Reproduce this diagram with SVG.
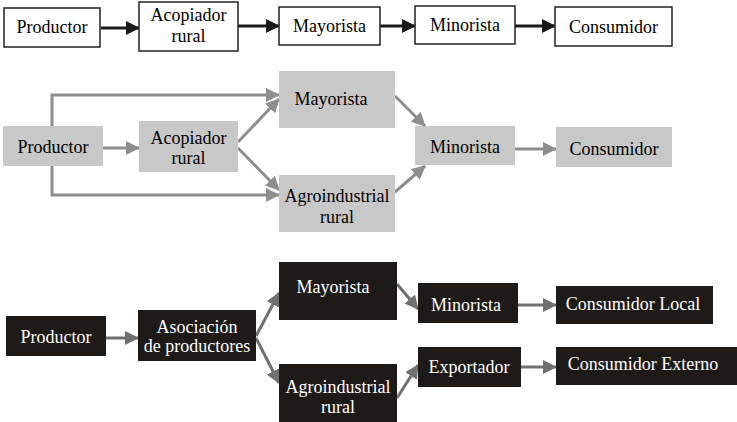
<svg xmlns="http://www.w3.org/2000/svg" width="737" height="422" viewBox="0 0 737 422">
<style>
.b1{fill:#fff;stroke:#222;stroke-width:1.5}
.b2{fill:#c8c8c8}
.b3{fill:#1e1a18}
.t3{fill:#fff}
.c1{stroke:#1a1a1a;stroke-width:3;fill:none;marker-end:url(#a1)}
.c2{stroke:#8e8e8e;stroke-width:3;fill:none;marker-end:url(#a2)}
.c3{stroke:#707070;stroke-width:3;fill:none;marker-end:url(#a3)}
</style>
<defs>
<marker id="a1" markerUnits="userSpaceOnUse" markerWidth="14" markerHeight="14" viewBox="0 0 14 14" refX="13" refY="7" orient="auto"><path d="M0,0 L14,7 L0,14 Z" fill="#1a1a1a"/></marker>
<marker id="a2" markerUnits="userSpaceOnUse" markerWidth="14" markerHeight="14" viewBox="0 0 14 14" refX="13" refY="7" orient="auto"><path d="M0,0 L14,7 L0,14 Z" fill="#8e8e8e"/></marker>
<marker id="a3" markerUnits="userSpaceOnUse" markerWidth="14" markerHeight="14" viewBox="0 0 14 14" refX="13" refY="7" orient="auto"><path d="M0,0 L14,7 L0,14 Z" fill="#707070"/></marker>
</defs>
<rect width="737" height="422" fill="#fff"/>
<g id="connectors">
<line class="c1" x1="101" y1="28" x2="139" y2="28"/>
<line class="c1" x1="238" y1="26" x2="279" y2="26"/>
<line class="c1" x1="380" y1="26" x2="415" y2="26"/>
<line class="c1" x1="515" y1="26" x2="555" y2="26"/>
<polyline class="c2" points="52,126 52,95 279,95"/>
<polyline class="c2" points="52,166 52,195 279,195"/>
<line class="c2" x1="103" y1="148" x2="139" y2="148"/>
<line class="c2" x1="238" y1="142" x2="279" y2="99"/>
<line class="c2" x1="238" y1="148" x2="279" y2="190"/>
<line class="c2" x1="395" y1="96" x2="425" y2="126"/>
<line class="c2" x1="395" y1="192" x2="425" y2="166"/>
<line class="c2" x1="515" y1="149" x2="556" y2="149"/>
<line class="c3" x1="106" y1="338" x2="138" y2="338"/>
<line class="c3" x1="256" y1="336" x2="279" y2="293"/>
<line class="c3" x1="256" y1="338" x2="279" y2="383"/>
<line class="c3" x1="397" y1="284" x2="418" y2="309"/>
<line class="c3" x1="397" y1="398" x2="418" y2="365"/>
<line class="c3" x1="518" y1="305" x2="556" y2="305"/>
<line class="c3" x1="521" y1="367" x2="556" y2="367"/>
</g>
<g font-family="Liberation Serif, Tinos, Times New Roman, Noto Serif, FreeSerif, DejaVu Serif, serif" font-size="18" text-anchor="middle">
<g id="r1-productor"><rect class="b1" x="4" y="8" width="96" height="39"/><text x="52" y="33">Productor</text></g>
<g id="r1-acopiador"><rect class="b1" x="139" y="2" width="99" height="49"/><text x="188.5" y="21">Acopiador</text><text x="188.5" y="42">rural</text></g>
<g id="r1-mayorista"><rect class="b1" x="279" y="7" width="101" height="38"/><text x="329.5" y="32">Mayorista</text></g>
<g id="r1-minorista"><rect class="b1" x="415" y="6" width="100" height="38"/><text x="465" y="31">Minorista</text></g>
<g id="r1-consumidor"><rect class="b1" x="555" y="7" width="117" height="39"/><text x="613.5" y="33">Consumidor</text></g>
<g id="r2-productor"><rect class="b2" x="3" y="126" width="100" height="40"/><text x="53" y="153">Productor</text></g>
<g id="r2-acopiador"><rect class="b2" x="139" y="121" width="99" height="51"/><text x="188.5" y="144">Acopiador</text><text x="188.5" y="164">rural</text></g>
<g id="r2-mayorista"><rect class="b2" x="279" y="71" width="116" height="57"/><text x="331" y="105">Mayorista</text></g>
<g id="r2-agroindustrial"><rect class="b2" x="279" y="175" width="116" height="57"/><text x="337" y="202">Agroindustrial</text><text x="337" y="223">rural</text></g>
<g id="r2-minorista"><rect class="b2" x="415" y="126" width="100" height="39"/><text x="465" y="153">Minorista</text></g>
<g id="r2-consumidor"><rect class="b2" x="556" y="127" width="116" height="40"/><text x="614" y="155">Consumidor</text></g>
<g id="r3-productor"><rect class="b3" x="6" y="316" width="100" height="40"/><text class="t3" x="56" y="343">Productor</text></g>
<g id="r3-asociacion"><rect class="b3" x="138" y="310" width="118" height="51"/><text class="t3" x="197" y="333">Asociación</text><text class="t3" x="197" y="352">de productores</text></g>
<g id="r3-mayorista"><rect class="b3" x="279" y="262" width="118" height="58"/><text class="t3" x="333" y="293">Mayorista</text></g>
<g id="r3-agroindustrial"><rect class="b3" x="279" y="364" width="118" height="58"/><text class="t3" x="338" y="393">Agroindustrial</text><text class="t3" x="338" y="413">rural</text></g>
<g id="r3-minorista"><rect class="b3" x="418" y="283" width="100" height="40"/><text class="t3" x="466" y="311">Minorista</text></g>
<g id="r3-consumidor-local"><rect class="b3" x="556" y="286" width="157" height="38"/><text class="t3" x="633" y="310">Consumidor Local</text></g>
<g id="r3-exportador"><rect class="b3" x="418" y="347" width="103" height="40"/><text class="t3" x="469" y="373">Exportador</text></g>
<g id="r3-consumidor-externo"><rect class="b3" x="556" y="347" width="181" height="38"/><text class="t3" x="643" y="370">Consumidor Externo</text></g>
</g>
</svg>
